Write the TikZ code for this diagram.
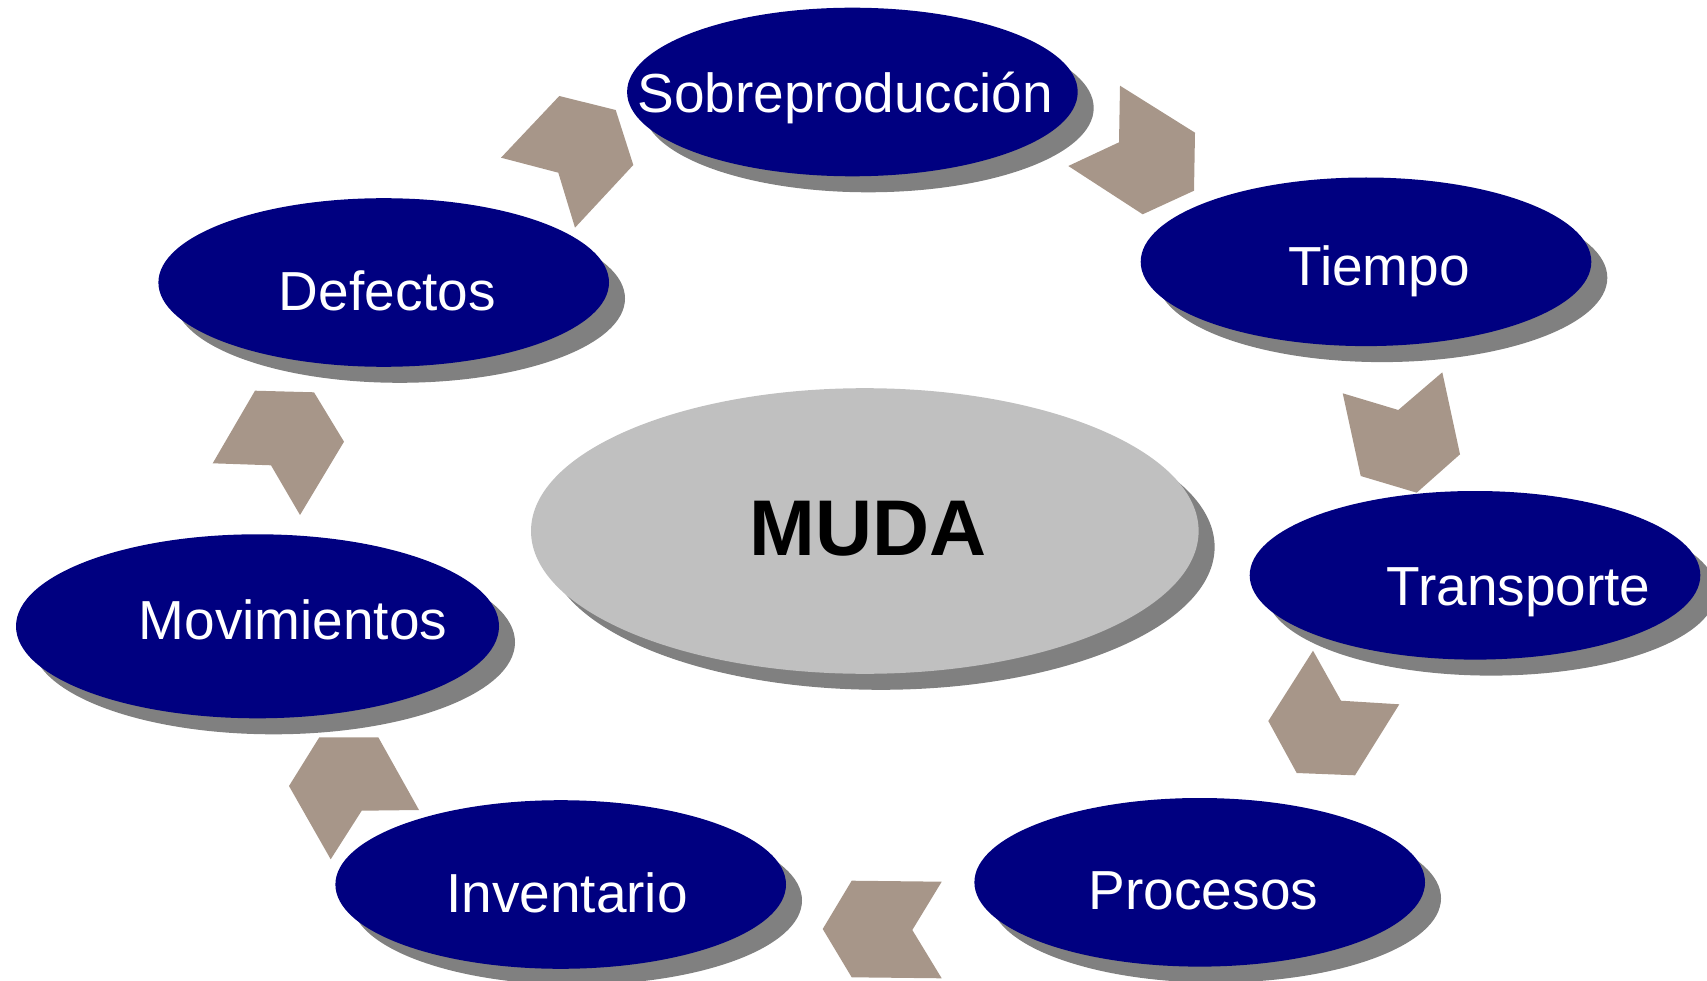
\documentclass[tikz,border=0pt]{standalone}
\usepackage{fontspec}
\setmainfont{Liberation Sans}
\usetikzlibrary{shapes.geometric,shadows}
\definecolor{navyblue}{RGB}{0,0,128}
\definecolor{shade}{RGB}{128,128,128}
\definecolor{silverfill}{RGB}{192,192,192}
\definecolor{chevcol}{RGB}{167,150,137}
\begin{document}
\begin{tikzpicture}[x=1pt,y=-1pt,
  waste/.style={ellipse, fill=navyblue, inner sep=0pt, minimum width=450.6pt, minimum height=168.6pt,
    drop shadow={shadow xshift=16pt, shadow yshift=-16pt, fill=shade, opacity=1}},
  wastetext/.style={anchor=base, text=white, inner sep=0pt, font=\fontsize{55}{66}\selectfont},
  chev/.style={fill=chevcol}
]
\useasboundingbox (0,0) rectangle (1707,981);

% chevrons (cycle direction, clockwise)
\fill[chev] (559.3,96) -- (615.7,110) -- (633.3,165) -- (575,227.7) -- (558.3,172.7) -- (501,157.7) -- cycle;
\fill[chev] (1120,85.7) -- (1195,132.7) -- (1194,190.7) -- (1142.7,214.3) -- (1068.3,166) -- (1119,142.3) -- cycle;
\fill[chev] (1342.7,393.3) -- (1398.3,410) -- (1442.3,372.3) -- (1460,454.3) -- (1416.7,492.7) -- (1360.7,476) -- cycle;
\fill[chev] (1313,650.7) -- (1341,700.7) -- (1399.3,704.3) -- (1355,775.3) -- (1296.7,773) -- (1268.3,721) -- cycle;
\fill[chev] (851.7,880.7) -- (941.7,881.7) -- (912.3,930) -- (941.7,978.3) -- (851.7,977.3) -- (822.7,929) -- cycle;
\fill[chev] (319.3,737.3) -- (378.3,737.3) -- (419,810) -- (361.7,810.7) -- (330.7,859.3) -- (289,786) -- cycle;
\fill[chev] (255,390.7) -- (314,392.3) -- (344,441.7) -- (300,515) -- (271,465.3) -- (212.7,463.3) -- cycle;

% ellipses
\node[waste] (sobre) at (852.4,92) {};
\node[waste] (tiempo) at (1366,261.8) {};
\node[waste] (transporte) at (1475,575.3) {};
\node[waste] (procesos) at (1199.7,882.3) {};
\node[waste] (inventario) at (560.7,884.5) {};
\node[waste, minimum width=483pt, minimum height=184pt] (movimientos) at (257.5,626.3) {};
\node[waste] (defectos) at (383.7,282.5) {};
\node[ellipse, fill=silverfill, inner sep=0pt, minimum width=667.6pt, minimum height=285.6pt,
  drop shadow={shadow xshift=16pt, shadow yshift=-16pt, fill=shade, opacity=1}] (muda) at (864.8,531) {};

% texts
\node[wastetext] (sobre-t) at (845.3,112.3) {Sobreproducción};
\node[wastetext] (tiempo-t) at (1379.2,285.2) {Tiempo};
\node[wastetext] (transporte-t) at (1518.6,605.3) {Transporte};
\node[wastetext] (procesos-t) at (1203.5,909) {Procesos};
\node[wastetext] (inventario-t) at (567,912.2) {Inventario};
\node[wastetext] (defectos-t) at (387.5,310.3) {Defectos};
\node[wastetext] (movimientos-t) at (293,639.3) {Movimientos};
\node[anchor=base, inner sep=0pt, font=\fontsize{79}{90}\selectfont\bfseries] (muda-t) at (868,555) {MUDA};
\end{tikzpicture}
\end{document}
